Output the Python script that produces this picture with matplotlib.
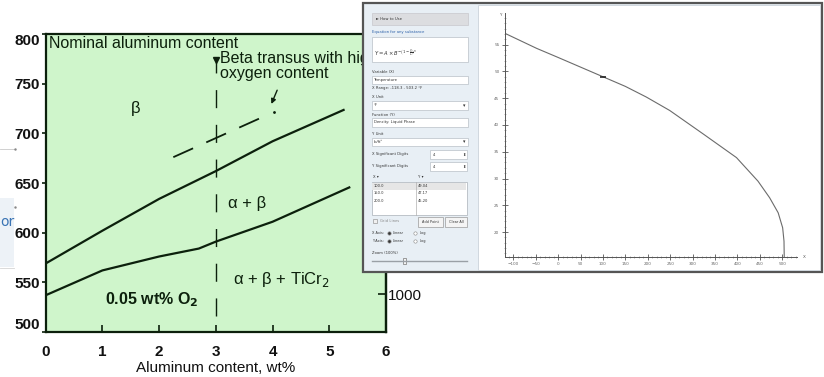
import matplotlib
matplotlib.use("Agg")
import matplotlib.pyplot as plt
from matplotlib.patches import Rectangle

# ---- phase diagram (left) ----
al_ticks = [0, 1, 2, 3, 4, 5, 6]
temp_ticks = [500, 550, 600, 650, 700, 750, 800]
degf_ticks = [1000]  # the higher °F ticks sit under the app window

upper_al = [0, 1, 2, 2.5, 3, 4, 5.27]
upper_t = [569, 602, 634, 648, 662, 692, 724]
lower_al = [0, 1, 2, 2.7, 3, 4, 5.37]
lower_t = [537, 562, 576, 584, 591, 611, 646]
highox_al = [2.25, 3.81]
highox_t = [676, 716]
highox_dot = (4.03, 721)
nominal_al = 3.0
nominal_t = [516, 772]

# ---- app screenshot curve (right) ----
temp_f = [-118.5, -48, 0, 50, 100, 150, 197, 249, 324, 398, 446, 472, 491, 501, 504, 504.5]
density = [57.1, 54.3, 52.6, 50.8, 49.0, 47.2, 45.2, 42.7, 38.3, 33.9, 29.5, 26.4, 23.6, 20.8, 18.3, 15.4]
app_xticks = [-100, -50, 0, 50, 100, 150, 200, 250, 300, 350, 400, 450, 500]
app_yticks = [20, 25, 30, 35, 40, 45, 50, 55]
table_x = ["100.0", "150.0", "200.0"]
table_y = ["49.04", "47.17", "45.20"]

W, H = 824, 377
fig = plt.figure(figsize=(W / 100, H / 100), dpi=100)
fig.patch.set_facecolor("white")

ink = "#0c200c"
main_font = "Liberation Sans"

# background web page bits
bg = fig.add_axes([0, 0, 1, 1], zorder=0)
bg.set_xlim(0, W)
bg.set_ylim(H, 0)
bg.set_axis_off()
bg.add_patch(Rectangle((0, 198), 14, 69, fc="#edf2f7", ec="none"))
bg.plot([0, 14], [149, 149], color="#c9c9c9", lw=0.6)
bg.plot([0, 14], [268, 268], color="#d5d5d5", lw=0.6)
bg.plot([15], [149], marker=".", ms=1.5, color="#888")
bg.plot([15], [207], marker=".", ms=1.5, color="#888")
bg.text(0, 222, "or", fontsize=10, color="#3a74b4", va="center", family="DejaVu Sans")

ax = fig.add_axes([45.7 / W, 45 / H, 340.3 / W, 298 / H], zorder=2)
ax.set_facecolor("#cff5cb")
ax.set_xlim(0, 6)
ax.set_ylim(500, 800)

ax.plot(upper_al, upper_t, color=ink, lw=1.6, solid_capstyle="butt")
ax.plot(lower_al, lower_t, color=ink, lw=1.6, solid_capstyle="butt")
hl, = ax.plot(highox_al, highox_t, color=ink, lw=1.3)
hl.set_dashes((12, 8))
ax.plot([highox_dot[0]], [highox_dot[1]], marker=".", ms=2, color=ink)
vl, = ax.plot([nominal_al, nominal_al], nominal_t, color=ink, lw=1.0)
vl.set_dashes((13, 12))
ax.plot([nominal_al], [nominal_t[1] + 2], marker="v", ms=4, color=ink)
ax.annotate("", xy=(3.96, 727), xytext=(4.1, 746),
            arrowprops=dict(arrowstyle="-|>", color=ink, lw=1.0, mutation_scale=7))

tf = dict(family=main_font, color=ink)
ax.text(0.06, 790, "Nominal aluminum content", fontsize=11.5, va="center", **tf)
ax.text(3.08, 775, "Beta transus with high", fontsize=11.5, va="center", **tf)
ax.text(3.08, 760, "oxygen content", fontsize=11.5, va="center", **tf)
ax.text(1.58, 725, "β", fontsize=12, ha="center", va="center", **tf)
ax.text(3.55, 629, "α + β", fontsize=12, ha="center", va="center", **tf)
ax.text(4.15, 553, r"α + β + TiCr$_2$", fontsize=12, ha="center", va="center", **tf)
ax.text(1.87, 533, r"0.05 wt% O$_\mathbf{2}$", fontsize=11.5, ha="center", va="center",
        weight="bold", **tf)

ax.set_xticks(al_ticks)
ax.set_yticks(temp_ticks)
ax.tick_params(axis="x", direction="in", length=5, width=1.2, color=ink, pad=9,
               labelsize=11)
ax.tick_params(axis="y", direction="out", length=3, width=1.2, color=ink, pad=1,
               labelsize=11)
for lbl in ax.get_xticklabels() + ax.get_yticklabels():
    lbl.set_fontfamily(main_font)
    lbl.set_fontweight("bold")
    lbl.set_color("#111")
yt = ax.yaxis.get_major_ticks()
yt[0].label1.set_verticalalignment("bottom")
yt[-1].label1.set_verticalalignment("top")
ax.set_xlabel("Aluminum content, wt%", fontsize=11, family=main_font, color="#111",
              labelpad=2)
for s in ax.spines.values():
    s.set_color(ink)
    s.set_linewidth(1.6)

sec = ax.secondary_yaxis("right", functions=(lambda c: c * 9 / 5 + 32,
                                             lambda f: (f - 32) * 5 / 9))
sec.set_yticks(degf_ticks)
sec.tick_params(direction="in", length=6, width=1.2, color=ink, pad=1, labelsize=11)
for lbl in sec.get_yticklabels():
    lbl.set_fontfamily(main_font)
    lbl.set_color("#111")
sec.spines["right"].set_color(ink)
sec.spines["right"].set_linewidth(1.6)

# ---- overlay: app window ----
ov = fig.add_axes([0, 0, 1, 1], zorder=5)
ov.set_xlim(0, W)
ov.set_ylim(H, 0)
ov.set_axis_off()
ov.patch.set_alpha(0)


def box(x0, y0, x1, y1, fc="white", ec="#b9c0c7", lw=0.5):
    ov.add_patch(Rectangle((x0, y0), x1 - x0, y1 - y0, fc=fc, ec=ec, lw=lw))


def lab(x, y, s, size=2.7, color="#333", **kw):
    ov.text(x, y, s, fontsize=size, color=color, va="center", family="DejaVu Sans", **kw)


box(363, 3, 822, 272, fc="#e8eff5", ec="#555555", lw=1.6)
box(478, 5, 820, 270, fc="white", ec="#cbd3da", lw=0.6)

box(372, 13, 468, 25, fc="#dcdde0", ec="#c8c8cc")
lab(376, 19, "► How to Use")
lab(372, 32, "Equation for any substance", color="#2b5fa8")
box(372, 37, 468, 62)
ov.text(374, 57, r"$Y = A \times B^{-\left(1-\frac{X}{C}\right)^{n}}$", fontsize=3.8,
        color="#333", va="baseline")
lab(372, 72, "Variable (X)")
box(372, 76, 468, 84)
lab(374, 80, "Temperature")
lab(372, 88, "X Range: -118.3 - 503.2 °F")
lab(372, 97, "X Unit")
box(372, 101, 468, 110)
lab(374, 105.5, "°F")
lab(463, 105.5, "▾", size=3.5)
lab(372, 115, "Function (Y)")
box(372, 118, 468, 127)
lab(374, 122.5, "Density: Liquid Phase")
lab(372, 134, "Y Unit")
box(372, 138, 468, 146)
lab(374, 142, "lb/ft³")
lab(463, 142, "▾", size=3.5)
lab(372, 154.5, "X Significant Digits")
box(430, 150, 467, 159)
lab(433, 154.5, "4")
lab(462, 154.5, "⬍", size=3)
lab(372, 166, "Y Significant Digits")
box(430, 162, 467, 171)
lab(433, 166.5, "4")
lab(462, 166.5, "⬍", size=3)
lab(373, 177, "X ▾")
lab(418, 177, "Y ▾")
box(372, 182, 467, 215, ec="#a9b0b7")
ov.add_patch(Rectangle((372.5, 182.5), 94, 7, fc="#e6e6e6", ec="none"))
ov.plot([416, 416], [182, 215], color="#b0b0b0", lw=0.5)
for i, (a, b) in enumerate(zip(table_x, table_y)):
    lab(374, 186 + 7.5 * i, a, size=2.6)
    lab(418, 186 + 7.5 * i, b, size=2.6)
box(373, 219, 377, 223, fc="#f0f0f0", ec="#999")
lab(380, 221, "Grid Lines", color="#888")
box(418, 217, 443, 227, fc="#f4f4f4", ec="#9a9a9a")
lab(430.5, 222, "Add Point", ha="center", size=2.5)
box(445, 217, 467, 227, fc="#f4f4f4", ec="#9a9a9a")
lab(456, 222, "Clear All", ha="center", size=2.5)
for yy, nm in ((233, "X Axis:"), (241, "Y Axis:")):
    lab(372, yy, nm, size=2.5)
    ov.plot([389.5], [yy], marker="o", ms=2.4, mfc="white", mec="#666", mew=0.4)
    ov.plot([389.5], [yy], marker="o", ms=1.0, color="#333")
    lab(393, yy, "Linear", size=2.5)
    ov.plot([415.5], [yy], marker="o", ms=2.4, mfc="white", mec="#888", mew=0.4)
    lab(420, yy, "Log", size=2.5)
lab(372, 253, "Zoom (100%)")
ov.plot([372, 467], [261, 261], color="#9aa0a6", lw=1.0)
box(403.5, 258, 406.5, 264, fc="#f4f4f4", ec="#777")

lab(502, 15, "Y", size=3, ha="right", color="#555")
lab(803, 256.7, "X", size=3, color="#555")

# ---- overlay: app plot ----
ai = fig.add_axes([505 / W, (H - 256.7) / H, (797 - 505) / W, (256.7 - 13) / H], zorder=6)
ai.patch.set_alpha(0)
ai.set_xlim(-118.5, 533)
ai.set_ylim(15.4, 60.9)
ai.plot(temp_f, density, color="#6b6b6b", lw=0.8)
ai.plot([100], [49.0], marker="_", ms=4, mew=1.2, color="#222")
ai.set_xticks(app_xticks)
ai.set_yticks(app_yticks)
ai.set_xticks(range(-110, 531, 10), minor=True)
ai.set_yticks(range(16, 61, 1), minor=True)
ai.tick_params(which="major", direction="inout", length=4, width=0.6, color="#555",
               labelsize=3, labelcolor="#666", pad=2)
ai.tick_params(which="minor", direction="inout", length=2, width=0.4, color="#777")
for s in ("top", "right"):
    ai.spines[s].set_visible(False)
for s in ("left", "bottom"):
    ai.spines[s].set_color("#555")
    ai.spines[s].set_linewidth(0.7)

fig.savefig("out.png", dpi=100)
